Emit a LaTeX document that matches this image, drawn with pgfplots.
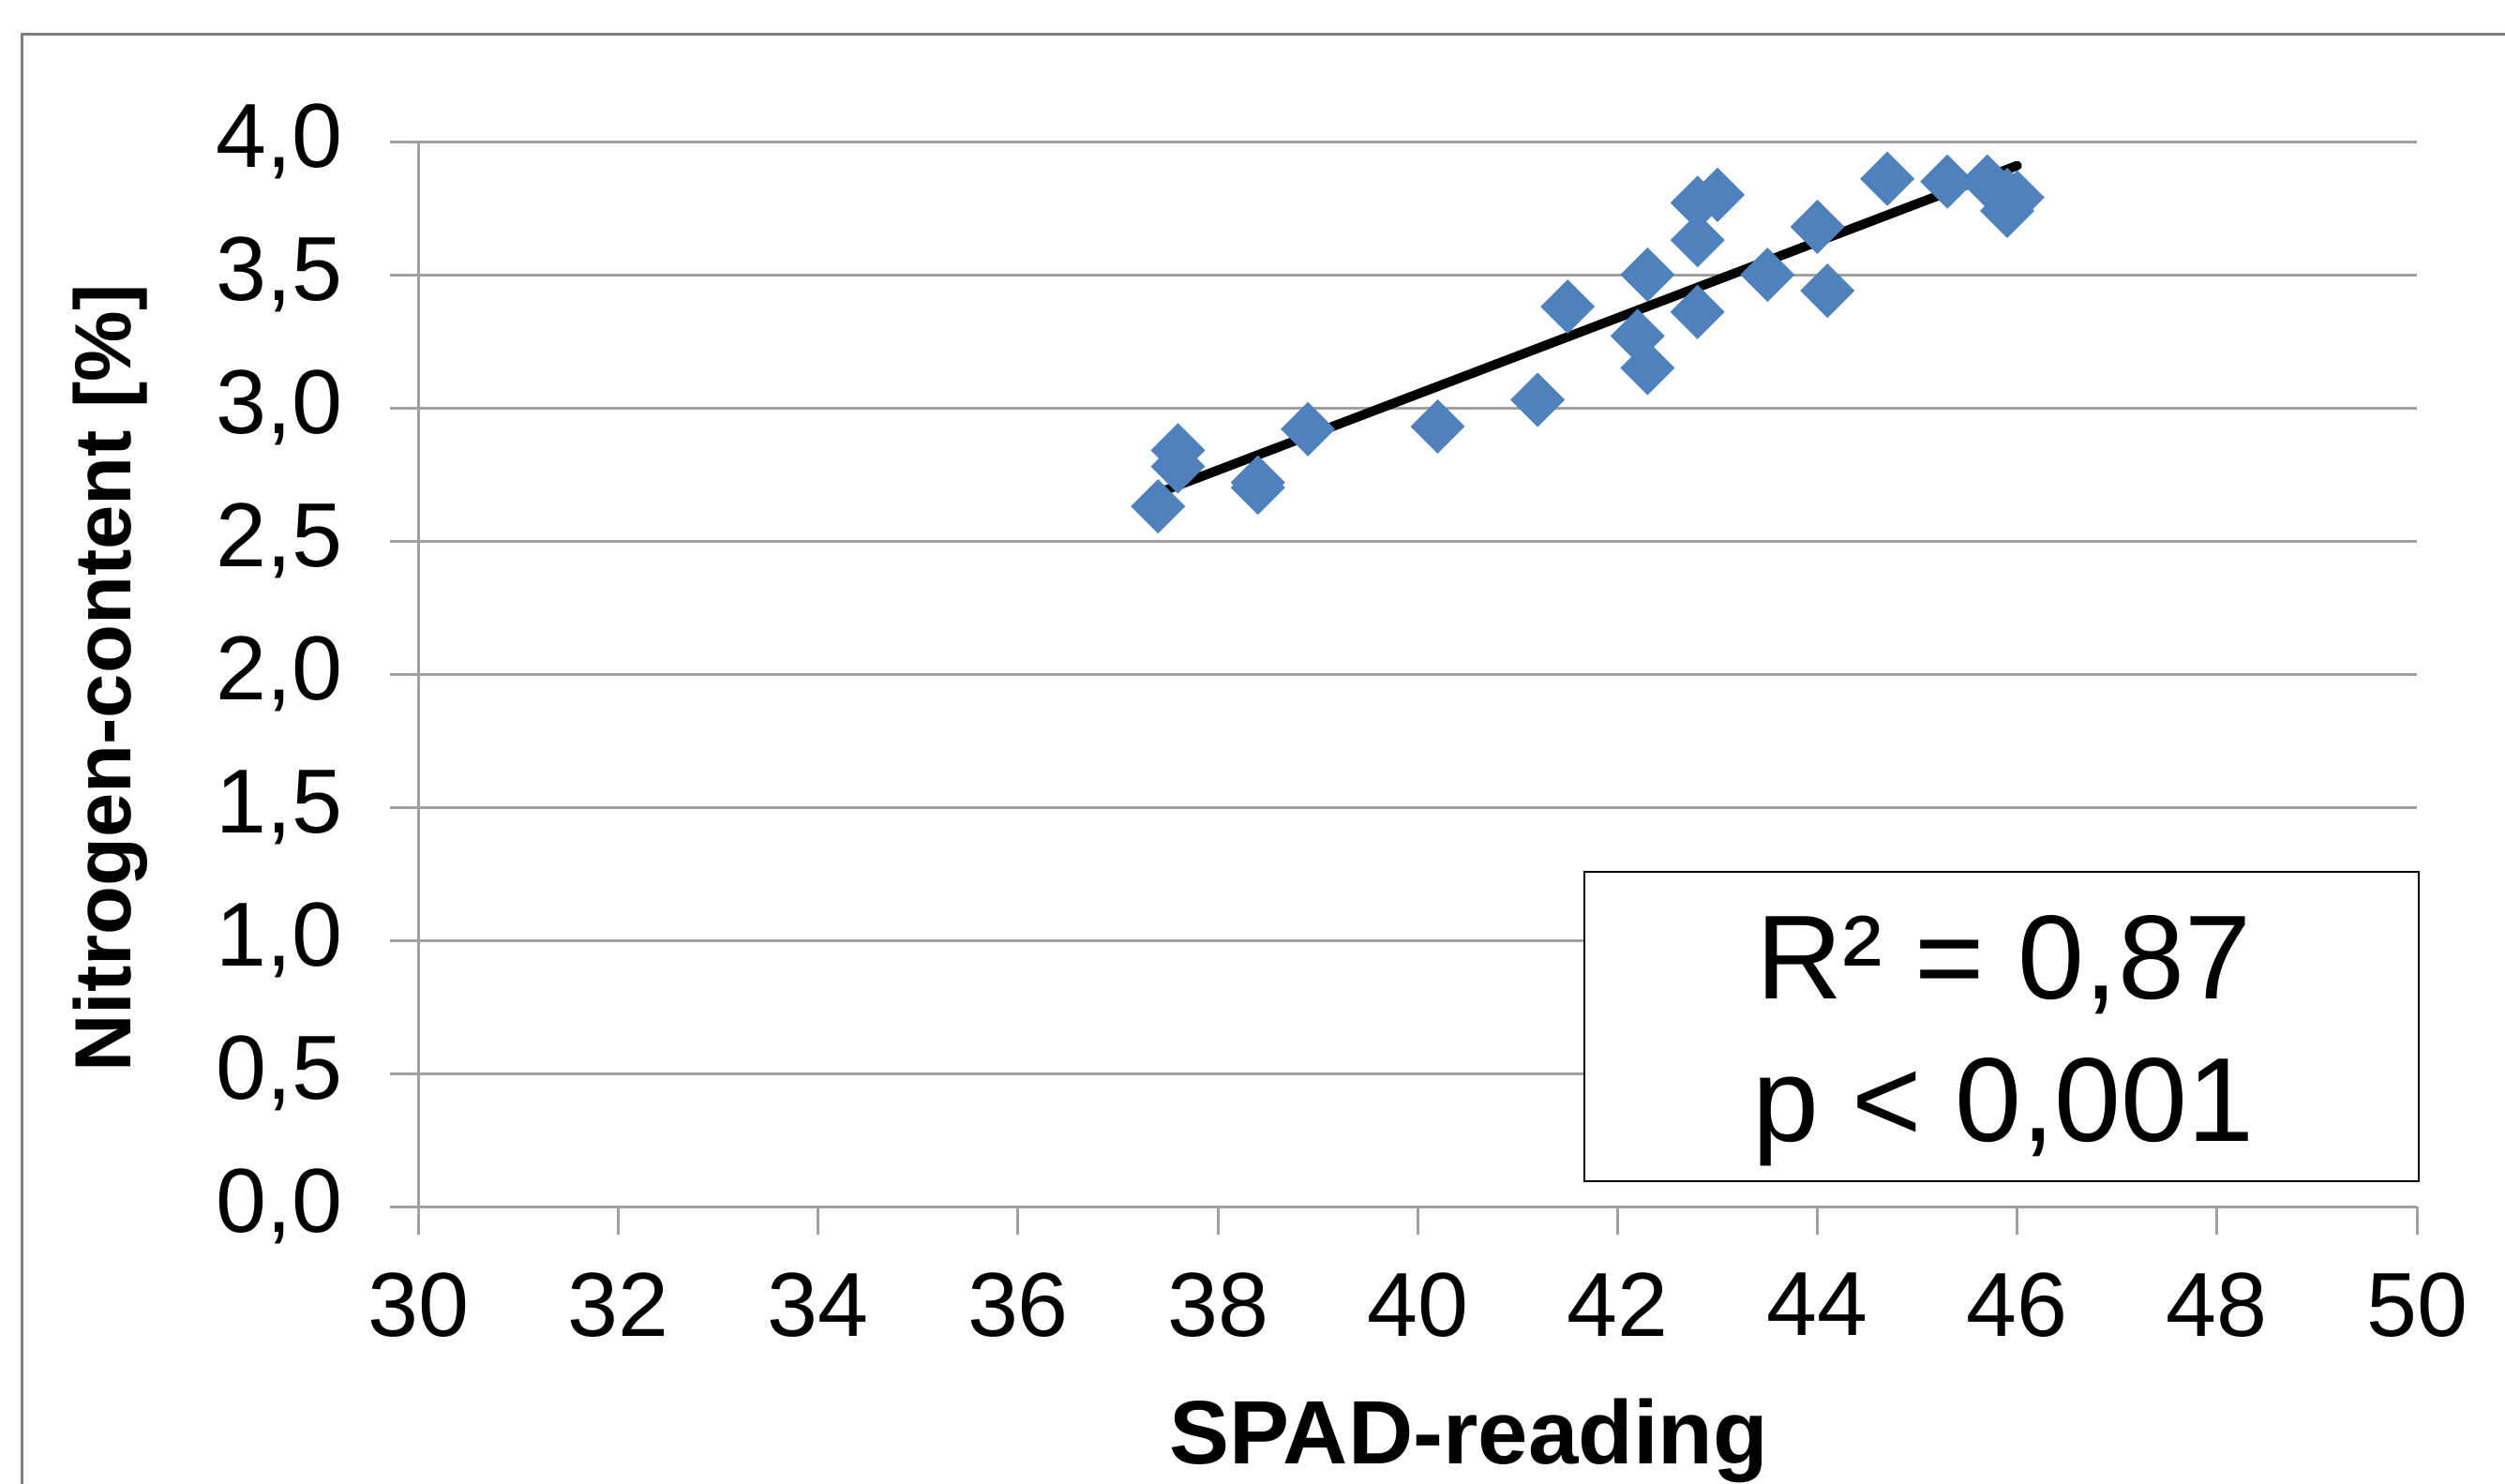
\documentclass[border=0pt]{standalone}
\usepackage{pgfplots}
\pgfplotsset{compat=1.18}
\usepackage{fontspec}
\setmainfont{Liberation Sans}

\definecolor{markblue}{HTML}{4F81BD}
\definecolor{gridgray}{HTML}{A0A0A0}
\definecolor{framegray}{HTML}{808080}

\begin{document}
\begin{tikzpicture}
% page = 2672 x 1582 px, 1 px = 0.2pt
\path[use as bounding box] (0,0) rectangle (534.4pt,-316.4pt);
\draw[framegray, line width=0.6pt] (4.66pt,-330pt) -- (4.66pt,-7.2pt) -- (545pt,-7.2pt);

\begin{axis}[
    at={(89.3pt,-257.4pt)}, anchor=south west,
    scale only axis, width=426.3pt, height=227.2pt,
    xmin=30, xmax=50, ymin=0, ymax=4,
    xtick={30,32,34,36,38,40,42,44,46,48,50},
    ytick={0,0.5,1,1.5,2,2.5,3,3.5,4},
    axis x line*=bottom, axis y line*=left,
    axis line style={draw=gridgray, line width=0.6pt, -},
    ymajorgrids, grid style={draw=gridgray, line width=0.6pt},
    tick align=outside, major tick length=6pt,
    tick style={draw=gridgray, line width=0.6pt},
    /pgf/number format/assume math mode=true,
    tick label style={font=\fontsize{19.4pt}{23pt}\selectfont, text=black},
    xticklabel style={yshift=-4.6pt},
    yticklabel style={xshift=-6.6pt, /pgf/number format/.cd, fixed, fixed zerofill, precision=1, use comma},
    xlabel={\bfseries SPAD-reading},
    ylabel={\bfseries Nitrogen-content [\%]},
    every axis x label/.style={at={(axis description cs:0.5257,-0.2412)}, anchor=base, font=\fontsize{19.2pt}{22pt}\selectfont},
    every axis y label/.style={at={(axis description cs:-0.1438,0.496)}, rotate=90, anchor=base, font=\fontsize{17pt}{20pt}\selectfont},
    clip=false,
]
\addplot[only marks, mark=square*, mark size=3.9pt,
    mark options={rotate=45, fill=markblue, draw=markblue}] coordinates {
    (37.4, 2.63)
    (37.6, 2.84)
    (37.6, 2.78)
    (38.4, 2.72)
    (38.4, 2.70)
    (38.9, 2.92)
    (40.2, 2.93)
    (41.2, 3.03)
    (41.5, 3.38)
    (42.3, 3.50)
    (42.2, 3.27)
    (42.3, 3.15)
    (42.8, 3.36)
    (42.8, 3.63)
    (42.8, 3.77)
    (43.0, 3.80)
    (43.5, 3.50)
    (44.0, 3.68)
    (44.1, 3.44)
    (44.7, 3.86)
    (45.3, 3.85)
    (45.7, 3.85)
    (45.9, 3.80)
    (45.9, 3.74)
    (46.0, 3.79)
};
% linear trend line
\addplot[no marks, black, line width=2pt, line cap=round] coordinates {
    (37.4, 2.68)
    (46.0, 3.91)
};
\end{axis}

% statistics box
\draw[black, line width=0.5pt, fill=white] (338pt,-186pt) rectangle (516pt,-252pt);
\node[anchor=base, inner sep=0pt, font=\fontsize{25.5pt}{30pt}\selectfont] at (427.4pt,-213pt) {R² = 0,87};
\node[anchor=base, inner sep=0pt, font=\fontsize{25.5pt}{30pt}\selectfont] at (427.4pt,-243.4pt) {p < 0,001};
\end{tikzpicture}
\end{document}
